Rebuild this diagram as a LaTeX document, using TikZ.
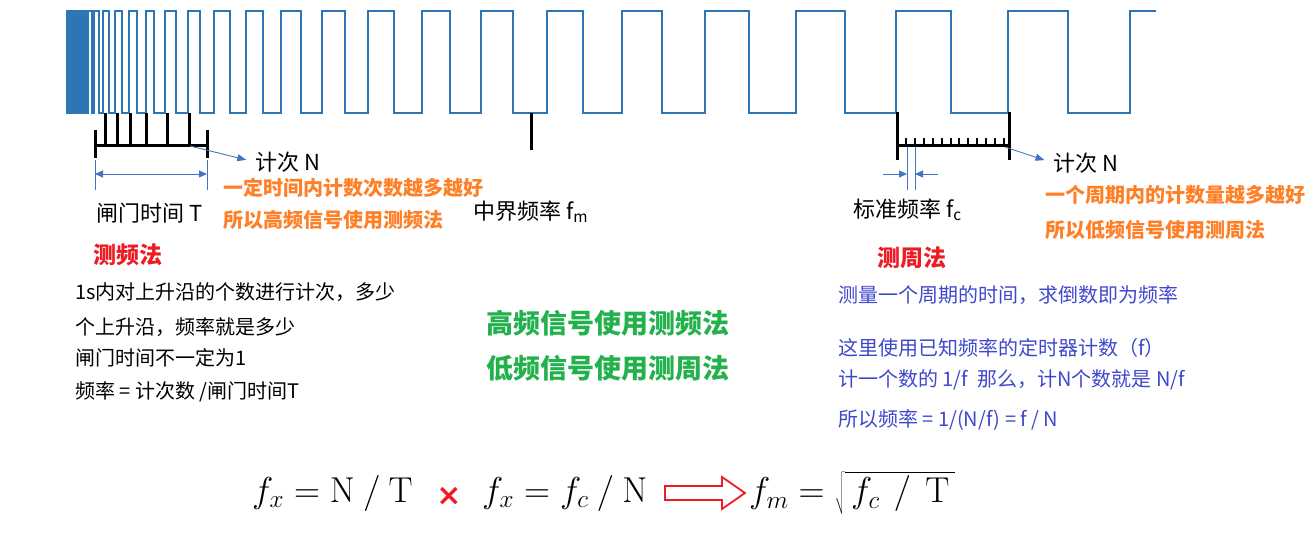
\RequirePackage{fix-cm}
\documentclass[tikz,border=0pt]{standalone}
\usepackage[no-math]{fontspec}
\setmainfont{Noto Sans CJK SC}
\newfontfamily\symfont{DejaVu Sans}
\usepackage{tikz}
\usetikzlibrary{positioning, arrows.meta}

\definecolor{waveblue}{HTML}{2E75B6}
\definecolor{dimblue}{HTML}{4472C4}
\definecolor{txtblue}{HTML}{3F48CC}
\definecolor{hotred}{HTML}{ED1C24}
\definecolor{warmorange}{HTML}{FF7F27}
\definecolor{okgreen}{HTML}{22B14C}

\begin{document}
\begin{tikzpicture}[x=1pt, y=-1pt,
  every node/.style={inner sep=0pt},
  wave/.style={draw=waveblue, line width=2pt},
  bar/.style={black, line width=3pt},
  fine/.style={black, line width=2pt},
  dim/.style={dimblue, line width=0.9pt},
  dimtip/.style={dim, -{Triangle[length=8pt, width=7pt]}},
  pointer/.style={dimblue, line width=0.9pt, -{Triangle[length=9pt, width=7pt]}, shorten >=9pt},
  lbl/.style={anchor=west, font=\fontsize{22}{26}\selectfont},
  note/.style={anchor=west, warmorange, font=\fontsize{20}{24}\selectfont\bfseries},
  head/.style={anchor=west, hotred, font=\fontsize{23}{27}\selectfont\bfseries},
  body/.style={anchor=west, font=\fontsize{20}{24}\selectfont},
  bluebody/.style={body, txtblue},
  slogan/.style={okgreen, font=\fontsize{27}{31}\selectfont\bfseries},
  formula/.style={anchor=west, font=\fontsize{36}{42}\selectfont}
]
\useasboundingbox (0,0) rectangle (1315,535);

% signal, period growing to the right
\filldraw[wave, fill=waveblue] (67,113) rectangle (80,11);
\draw[wave] (80,113)
  \foreach \r/\f in {81/82.5, 84/86, 88/92, 94/99, 103/109, 115/122, 129/137,
    146/154, 165/176, 188/200, 214/230, 246/263, 281/301, 322/345, 368/394,
    422/450, 481/513, 547/583, 622/662, 705/749, 796/845, 896/951, 1008/1068}
  { -- (\r,113) -- (\r,11) -- (\f,11) -- (\f,113) }
  -- (1130,113) -- (1130,11) -- (1156,11);

% gate counting
\draw[bar] (95,145) -- (207,145);
\draw[bar] (95,130) -- (95,158);
\draw[bar] (207,130) -- (207,158);
\foreach \x in {105,117,130,146,167,189}
  \draw[bar] (\x,113) -- (\x,145);
\draw[dim] (95,160) -- (95,190);
\draw[dim] (207,160) -- (207,190);
\draw[dim, {Triangle[length=8pt, width=7pt]}-{Triangle[length=8pt, width=7pt]}] (95,174) -- (207,174);
\coordinate (gateEnd) at (190,146);

\draw[bar] (531,113) -- (531,150);

% period counting
\draw[bar] (897,145) -- (1009,145);
\draw[bar] (897,112) -- (897,160);
\draw[bar] (1009,112) -- (1009,160);
\foreach \i in {0,...,11}
  \draw[fine] ({906+8.9*\i},138) -- ({906+8.9*\i},145);
\draw[dim] (907,147) -- (907,190);
\draw[dim] (915,147) -- (915,190);
\draw[dimtip] (883,174) -- (907,174);
\draw[dimtip] (938,174) -- (915,174);
\coordinate (perEnd) at (1005,147);

\node[lbl] (cntL) at (255,162) {计次 N};
\draw[pointer] (gateEnd) -- (cntL.west);
\node[note] (ruleL) at (223,188) {一定时间内计数次数越多越好};
\node[note] (useL) at (223,220) {所以高频信号使用测频法};
\node[lbl] (gateT) at (96,213) {闸门时间 T};
\node[lbl] (midF) at (473,212) {中界频率 f\textsubscript{m}};
\node[lbl] (stdF) at (853,210) {标准频率 f\textsubscript{c}};
\node[lbl] (cntR) at (1053,163) {计次 N};
\draw[pointer] (perEnd) -- (cntR.west);
\node[note] (ruleR) at (1045,195) {一个周期内的计数量越多越好};
\node[note] (useR) at (1045,230) {所以低频信号使用测周法};

\node[head] (freqHd) at (93,255) {测频法};
\node[body] (freqA) at (75,292) {1s内对上升沿的个数进行计次，多少};
\node[body] (freqB) at (75,327) {个上升沿，频率就是多少};
\node[body] (freqC) at (75,358) {闸门时间不一定为1};
\node[body] (freqD) at (75,392) {频率 = 计次数 /闸门时间T};

\node[slogan] (hiUse) at (608,323) {高频信号使用测频法};
\node[slogan, below=19pt of hiUse] (loUse) {低频信号使用测周法};

\node[head] (perHd) at (877,258) {测周法};
\node[bluebody] (perA) at (838,295) {测量一个周期的时间，求倒数即为频率};
\node[bluebody] (perB) at (838,348) {这里使用已知频率的定时器计数（f）};
\node[bluebody] (perC) at (838,380) {计一个数的 1/f\ \ 那么，计N个数就是 N/f};
\node[bluebody] (perD) at (838,420) {所以频率 = 1/(N/f) = f / N};

% formulas
\node[formula] (eqFreq) at (252,493) {$f_x = \mathrm{N}\ /\ \mathrm{T}$};
\node[hotred, font=\symfont\bfseries\fontsize{30}{34}\selectfont] (wrong) at (449,496) {×};
\node[formula] (eqPer) at (482,493) {$f_x = f_c\ /\ \mathrm{N}$};
\draw[hotred, line width=1.8pt, fill=white] (665,486) -- (722,486) -- (722,477)
  -- (745,493) -- (722,509) -- (722,500) -- (665,500) -- cycle;
\node[formula] (eqMid) at (749,493) {$f_m = \sqrt{\,f_c\ \,/\ \,\mathrm{T}\,}$};
\end{tikzpicture}
\end{document}
